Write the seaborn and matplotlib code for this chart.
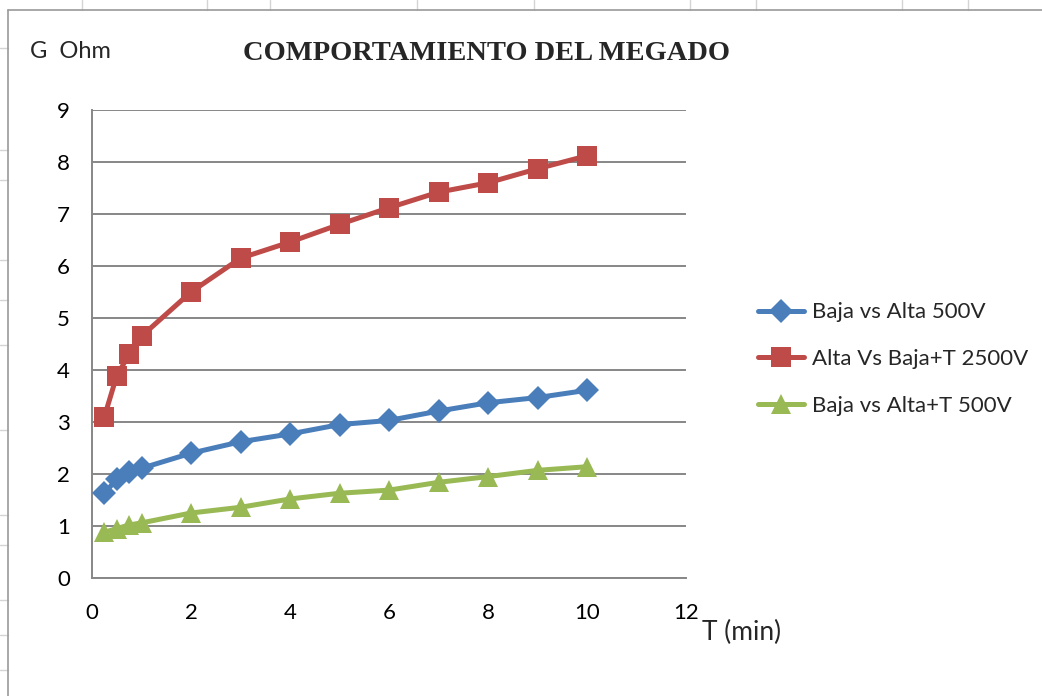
import matplotlib
matplotlib.use("Agg")
import matplotlib.pyplot as plt
import seaborn as sns
import pandas as pd
from matplotlib.lines import Line2D

t_min = [0.25, 0.5, 0.75, 1, 2, 3, 4, 5, 6, 7, 8, 9, 10]
baja_alta_500 = [1.63, 1.90, 2.03, 2.11, 2.40, 2.62, 2.77, 2.95, 3.03, 3.21, 3.37, 3.47, 3.61]
alta_baja_t_2500 = [3.10, 3.89, 4.30, 4.65, 5.50, 6.15, 6.46, 6.80, 7.12, 7.42, 7.60, 7.87, 8.12]
baja_alta_t_500 = [0.88, 0.95, 1.02, 1.06, 1.25, 1.36, 1.52, 1.63, 1.69, 1.84, 1.95, 2.07, 2.14]

series_names = ["Baja vs Alta 500V", "Alta Vs Baja+T 2500V", "Baja vs Alta+T 500V"]
series_vals = [baja_alta_500, alta_baja_t_2500, baja_alta_t_500]
colors = ["#4A7EBB", "#BE4B48", "#98B954"]
markers = ["D", "s", "^"]
msizes = [12, 14, 14]

title = "COMPORTAMIENTO DEL MEGADO"
y_label = "G  Ohm"
x_label = "T (min)"

sns.set_style("white")
plt.rcParams["font.family"] = ["Lato", "DejaVu Sans"]

fig = plt.figure(figsize=(10.42, 6.96), dpi=100)
ax = fig.add_axes([92 / 1042, 1 - 578 / 696, (686 - 92) / 1042, (578 - 110) / 696])

for name, vals, c, m, ms in zip(series_names, series_vals, colors, markers, msizes):
    df = pd.DataFrame({"t": t_min, "v": vals})
    sns.lineplot(data=df, x="t", y="v", ax=ax, color=c, lw=3.6, marker=m,
                 markersize=ms, markeredgecolor=c, markeredgewidth=0,
                 label=name, zorder=3)

ax.set_xlim(0, 12)
ax.set_ylim(0, 9)
ax.set_xticks(range(0, 13, 2))
ax.set_yticks(range(0, 10))
ax.yaxis.grid(True, color="#878787", lw=1.4)
ax.xaxis.grid(False)
for s in ["top", "right"]:
    ax.spines[s].set_visible(False)
for s in ["left", "bottom"]:
    ax.spines[s].set_color("#878787")
    ax.spines[s].set_linewidth(1.4)
ax.tick_params(axis="both", which="both", direction="out", colors="#878787",
               length=6, width=1.4, labelcolor="black", labelsize=16)
ax.tick_params(axis="x", pad=12)
ax.tick_params(axis="y", pad=10)
ax.set_xlabel("")
ax.set_ylabel("")

leg = ax.legend(loc="center left", bbox_to_anchor=(1.087, 0.468), frameon=False,
                fontsize=16, handlelength=2.1, labelspacing=1.2, handletextpad=0.35)

fig.text(243 / 1042, 1 - 53 / 696, title, fontsize=20.5, fontweight="bold",
         family="Liberation Serif", ha="left", va="center")
fig.text(30 / 1042, 1 - 52 / 696, y_label, fontsize=17, ha="left", va="center")
fig.text(702 / 1042, 1 - 632 / 696, x_label, fontsize=19, ha="left", va="center")

# spreadsheet background cell lines and chart frame
gc = "#D4D4D4"
for xp in [82, 207, 270, 417, 534, 690, 756, 902, 968]:
    fig.add_artist(Line2D([xp / 1042, xp / 1042], [1, 1 - 10 / 696], color=gc, lw=1))
for yp in [48, 150, 180, 260, 300, 345, 430, 515, 545, 600, 635, 670]:
    fig.add_artist(Line2D([0, 8 / 1042], [1 - yp / 696, 1 - yp / 696], color=gc, lw=1))
fig.add_artist(Line2D([8 / 1042, 8 / 1042], [0, 1 - 10 / 696], color="#9A9A9A", lw=1.2))
fig.add_artist(Line2D([8 / 1042, 1], [1 - 10 / 696, 1 - 10 / 696], color="#9A9A9A", lw=1.2))

fig.savefig("out.png", dpi=100)
